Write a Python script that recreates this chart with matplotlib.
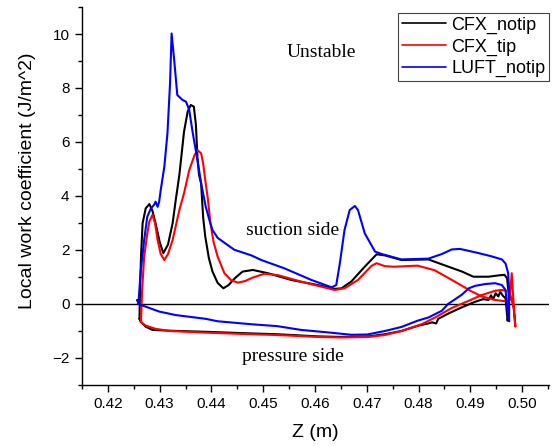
import matplotlib
matplotlib.use("Agg")
import matplotlib.pyplot as plt
from matplotlib.ticker import MultipleLocator

plt.rcParams['font.family'] = ['Liberation Sans', 'DejaVu Sans']

# Axial position Z (m) and local work coefficient (J/m^2); each curve runs
# along the suction side from the leading edge to the trailing edge and back
# along the pressure side.
cfx_notip_z = [
    0.4261, 0.4262, 0.4264, 0.4267, 0.4273, 0.4280, 0.4286, 0.4292, 0.4300, 0.4307,
    0.4316, 0.4325, 0.4331, 0.4338, 0.4347, 0.4354, 0.4360, 0.4366, 0.4370, 0.4373,
    0.4376, 0.4380, 0.4384, 0.4388, 0.4395, 0.4402, 0.4412, 0.4423, 0.4433, 0.4445,
    0.4460, 0.4480, 0.4509, 0.4554, 0.4606, 0.4638, 0.4651, 0.4670, 0.4696, 0.4719,
    0.4735, 0.4767, 0.4819, 0.4858, 0.4884, 0.4906, 0.4935, 0.4955, 0.4966, 0.4971,
    0.4974, 0.4974, 0.4972, 0.4970, 0.4968, 0.4963, 0.4958, 0.4954, 0.4949, 0.4944,
    0.4940, 0.4935, 0.4925, 0.4909, 0.4884, 0.4858, 0.4845, 0.4838, 0.4834, 0.4826,
    0.4819, 0.4800, 0.4780, 0.4767, 0.4735, 0.4703, 0.4650, 0.4606, 0.4527, 0.4477,
    0.4389, 0.4320, 0.4286, 0.4273, 0.4263, 0.4261,
]
cfx_notip_w = [
    -0.55, 0.50, 1.80, 2.99, 3.54, 3.70, 3.45, 2.99, 2.30, 1.88,
    2.20, 2.99, 3.85, 4.78, 6.38, 7.12, 7.37, 7.31, 6.63, 5.40,
    4.78, 4.47, 3.20, 2.50, 1.70, 1.20, 0.78, 0.58, 0.70, 0.95,
    1.20, 1.26, 1.14, 0.89, 0.70, 0.56, 0.58, 0.83, 1.38, 1.84,
    1.80, 1.63, 1.65, 1.38, 1.20, 1.01, 1.01, 1.06, 1.08, 0.95,
    0.40, -0.35, -0.62, -0.20, 0.21, 0.30, 0.45, 0.28, 0.40, 0.17,
    0.32, 0.15, 0.18, 0.08, -0.12, -0.35, -0.48, -0.55, -0.72, -0.68,
    -0.72, -0.80, -0.92, -1.00, -1.12, -1.20, -1.22, -1.20, -1.12, -1.09,
    -1.03, -0.99, -0.96, -0.84, -0.65, -0.55,
]

cfx_tip_z = [
    0.4264, 0.4266, 0.4270, 0.4276, 0.4280, 0.4286, 0.4291, 0.4296, 0.4302, 0.4309,
    0.4316, 0.4325, 0.4338, 0.4347, 0.4357, 0.4367, 0.4373, 0.4380, 0.4384, 0.4388,
    0.4393, 0.4398, 0.4404, 0.4412, 0.4425, 0.4438, 0.4451, 0.4465, 0.4480, 0.4502,
    0.4528, 0.4573, 0.4606, 0.4638, 0.4657, 0.4683, 0.4709, 0.4719, 0.4735, 0.4753,
    0.4798, 0.4831, 0.4869, 0.4902, 0.4922, 0.4948, 0.4968, 0.4976, 0.4980, 0.4983,
    0.4987, 0.4984, 0.4978, 0.4974, 0.4961, 0.4948, 0.4922, 0.4897, 0.4864, 0.4832,
    0.4806, 0.4767, 0.4735, 0.4703, 0.4650, 0.4606, 0.4527, 0.4477, 0.4389, 0.4320,
    0.4292, 0.4273, 0.4266, 0.4264,
]
cfx_tip_w = [
    -0.65, 0.50, 1.75, 2.60, 3.05, 3.30, 3.00, 2.37, 1.85, 1.63,
    1.85, 2.37, 3.48, 4.10, 4.95, 5.50, 5.70, 5.58, 5.20, 4.60,
    3.90, 3.00, 2.30, 1.75, 1.14, 0.88, 0.79, 0.85, 0.98, 1.12,
    1.07, 0.83, 0.67, 0.52, 0.58, 0.89, 1.41, 1.51, 1.40, 1.38,
    1.42, 1.25, 0.84, 0.47, 0.28, 0.15, 0.10, 0.15, 1.14, 0.20,
    -0.84, -0.20, 0.30, 0.46, 0.52, 0.49, 0.33, 0.12, -0.15, -0.50,
    -0.75, -1.00, -1.15, -1.22, -1.24, -1.22, -1.15, -1.12, -1.06, -1.00,
    -0.92, -0.80, -0.70, -0.65,
]

luft_notip_z = [
    0.4257, 0.4259, 0.4263, 0.4270, 0.4276, 0.4283, 0.4289, 0.4292, 0.4296, 0.4299,
    0.4302, 0.4309, 0.4315, 0.4320, 0.4323, 0.4328, 0.4334, 0.4344, 0.4351, 0.4357,
    0.4364, 0.4373, 0.4380, 0.4389, 0.4396, 0.4402, 0.4412, 0.4422, 0.4444, 0.4477,
    0.4496, 0.4541, 0.4593, 0.4632, 0.4641, 0.4648, 0.4657, 0.4667, 0.4677, 0.4683,
    0.4696, 0.4716, 0.4729, 0.4767, 0.4819, 0.4845, 0.4864, 0.4880, 0.4915, 0.4940,
    0.4961, 0.4968, 0.4973, 0.4975, 0.4975, 0.4975, 0.4971, 0.4968, 0.4961, 0.4948,
    0.4929, 0.4909, 0.4897, 0.4884, 0.4857, 0.4845, 0.4819, 0.4798, 0.4767, 0.4735,
    0.4701, 0.4670, 0.4624, 0.4573, 0.4527, 0.4477, 0.4412, 0.4389, 0.4331, 0.4299,
    0.4273, 0.4259, 0.4257,
]
luft_notip_w = [
    0.15, 0.03, 1.14, 2.37, 3.23, 3.54, 3.67, 3.79, 3.60, 3.79,
    4.22, 5.09, 6.32, 8.17, 10.02, 9.04, 7.74, 7.56, 7.49, 7.19,
    6.32, 5.33, 4.47, 3.60, 3.11, 2.74, 2.45, 2.31, 2.01, 1.80,
    1.63, 1.32, 0.89, 0.62, 0.70, 1.51, 2.74, 3.48, 3.63, 3.48,
    2.62, 1.94, 1.85, 1.65, 1.68, 1.85, 2.02, 2.04, 1.89, 1.77,
    1.65, 1.50, 1.15, 0.50, -0.20, -0.64, -0.10, 0.52, 0.70, 0.77,
    0.74, 0.67, 0.58, 0.35, 0.00, -0.25, -0.50, -0.62, -0.85, -1.00,
    -1.13, -1.14, -1.05, -0.96, -0.82, -0.75, -0.64, -0.55, -0.41, -0.28,
    -0.10, 0.00, 0.15,
]

series_names = ['CFX_notip', 'CFX_tip', 'LUFT_notip']
series_colors = ['black', '#ff0000', '#0000ff']

fig = plt.figure(figsize=(5.52, 4.46), dpi=100)
ax = fig.add_axes([0.1486, 0.1368, 0.8460, 0.8475])

for z, w, name, col in zip(
        [cfx_notip_z, cfx_tip_z, luft_notip_z],
        [cfx_notip_w, cfx_tip_w, luft_notip_w],
        series_names, series_colors):
    ax.plot(z, w, color=col, lw=1.5, label=name,
            solid_joinstyle='round', solid_capstyle='round')

ax.axhline(0, color='black', lw=1.0, zorder=0)

ax.set_xlim(0.415, 0.5052)
ax.set_ylim(-3, 11)
ax.xaxis.set_minor_locator(MultipleLocator(0.005))
ax.yaxis.set_major_locator(MultipleLocator(2))
ax.yaxis.set_minor_locator(MultipleLocator(1))
ax.set_xticks([0.42, 0.43, 0.44, 0.45, 0.46, 0.47, 0.48, 0.49, 0.50])
ax.set_xticklabels(['0.42', '0.43', '0.44', '0.45', '0.46', '0.47', '0.48', '0.49', '0.50'])
ax.tick_params(which='major', direction='out', length=5, width=1.0, labelsize=11, pad=4)
ax.tick_params(which='minor', direction='out', length=3, width=1.0)

for side in ('top', 'right'):
    ax.spines[side].set_visible(False)
for side in ('left', 'bottom'):
    ax.spines[side].set_linewidth(1.0)

ax.set_xlabel('Z (m)', fontsize=14)
ax.xaxis.set_label_coords(0.5, -0.102)
ax.set_ylabel('Local work coefficient (J/m^2)', fontsize=14)
ax.yaxis.set_label_coords(-0.099, 0.54)

serif = ['Liberation Serif', 'DejaVu Serif']
ax.text(0.4546, 9.33, 'Unstable', fontsize=14, family=serif, va='center', ha='left')
ax.text(0.4467, 2.74, 'suction side', fontsize=14, family=serif, va='center', ha='left')
ax.text(0.4459, -1.96, 'pressure side', fontsize=14, family=serif, va='center', ha='left')

leg = ax.legend(loc='upper right', bbox_to_anchor=(1.0, 0.984), borderaxespad=0,
                fontsize=13, handlelength=2.45, handletextpad=0.3, borderpad=0.2,
                labelspacing=0.25, fancybox=False, framealpha=1)
leg.get_frame().set_edgecolor('#444444')
leg.get_frame().set_linewidth(0.8)
for line in leg.get_lines():
    line.set_linewidth(1.2)

fig.savefig('out.png', dpi=100)
